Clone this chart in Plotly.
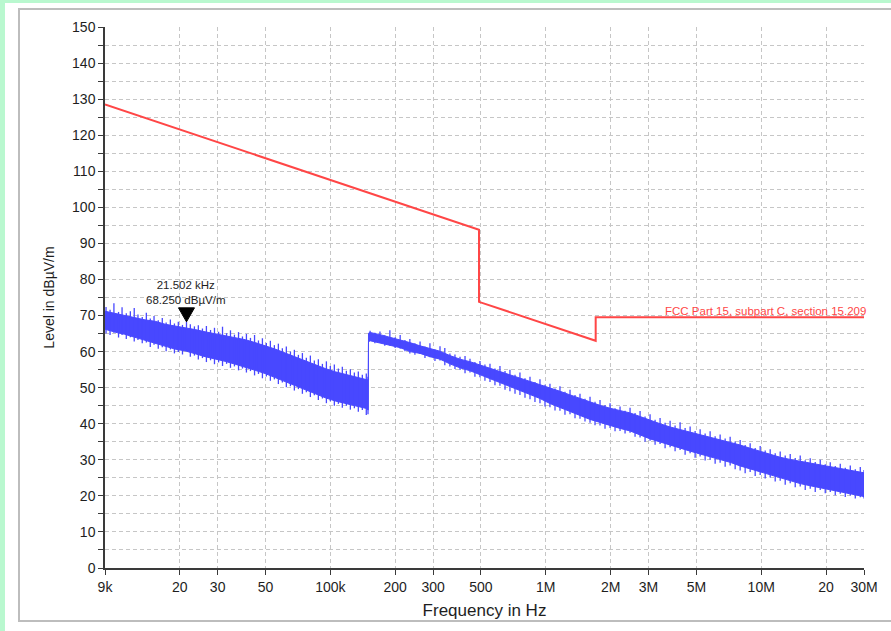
import math
import plotly.graph_objects as go

# ---------------- measured spectrum ----------------
# Dense core of the peak trace (frequencies in kHz, levels in dBuV/m)
core_a_khz = [9.0, 10.0, 11.1, 12.4, 13.8, 15.4, 17.1, 19.0, 21.2, 23.6, 26.2, 29.2, 32.5, 36.2,
              40.3, 44.8, 49.9, 55.5, 61.8, 68.8, 76.5, 85.2, 94.8, 105.5, 117.4, 130.7, 145.4, 150]
core_a_top = [71.2, 70.6, 70.1, 69.4, 68.8, 68.4, 67.6, 67.1, 66.7, 66.1, 65.5, 65.0, 64.5, 63.9,
              63.3, 62.5, 61.7, 60.7, 59.6, 58.5, 57.4, 56.3, 55.3, 54.4, 53.7, 53.0, 52.4, 52.1]
core_a_bot = [66.2, 65.4, 64.8, 64.0, 63.2, 62.4, 61.5, 60.7, 60.2, 59.4, 58.6, 57.9, 57.3, 56.5,
              55.7, 54.8, 53.9, 52.9, 51.7, 50.5, 49.4, 48.3, 47.2, 46.3, 45.6, 44.9, 44.3, 43.8]

core_b_khz = [150.4, 153, 170, 189, 211, 234, 261, 290, 323, 359, 400, 445, 495, 551, 613, 682,
              759, 845, 940, 1046, 1164, 1296, 1442, 1605, 1786, 1988, 2212, 2462, 2740, 3049,
              3393, 3777, 4203, 4678, 5206, 5793, 6447, 7175, 7985, 8887, 9891, 11008, 12251,
              13634, 15174, 16887, 18794, 20916, 23278, 25907, 28832, 30000]
core_b_top = [65.1, 65.3, 64.7, 64.0, 63.3, 62.5, 61.6, 60.9, 60.1, 58.9, 57.9, 57.2, 56.3, 55.5,
              54.6, 53.7, 52.8, 51.7, 50.8, 49.9, 49.0, 48.0, 47.0, 45.9, 45.1, 44.3, 43.6, 43.0,
              42.0, 40.9, 40.0, 39.1, 38.4, 37.7, 37.0, 36.3, 35.6, 35.0, 34.1, 33.2, 32.3, 31.5,
              30.7, 30.1, 29.6, 29.1, 28.6, 28.1, 27.6, 27.1, 26.6, 26.4]
core_b_bot = [62.7, 63.0, 62.5, 61.8, 61.1, 60.0, 59.5, 58.6, 57.9, 56.6, 55.5, 54.7, 53.7, 52.6,
              51.5, 50.4, 49.2, 48.1, 47.0, 45.6, 44.5, 43.3, 42.3, 41.2, 40.3, 39.5, 38.7, 38.0,
              36.9, 35.8, 34.9, 34.0, 33.2, 32.4, 31.6, 30.8, 30.0, 29.3, 28.3, 27.4, 26.6, 25.8,
              24.9, 24.2, 23.4, 22.8, 22.2, 21.6, 21.0, 20.5, 20.0, 19.8]

# Individual sweep bins reaching outside the core: frequency (kHz), min and max level
bins_a_khz = [9.1, 9.5, 9.9, 10.4, 10.8, 11.3, 11.8, 12.3, 12.8, 13.4, 14.0, 14.6, 15.2, 15.9,
              16.6, 17.3, 18.1, 18.9, 19.7, 20.6, 21.502, 22.4, 23.4, 24.4, 25.5, 26.6, 27.8,
              29.0, 30.3, 31.6, 33.0, 34.4, 35.9, 37.5, 39.1, 40.8, 42.6, 44.5, 46.4, 48.4,
              50.5, 52.7, 55.0, 57.4, 59.9, 62.5, 65.3, 68.1, 71.1, 74.2, 77.4, 80.8, 84.3,
              88.0, 91.9, 95.9, 100, 104.4, 109, 113.7, 118.7, 123.9, 129.3, 134.9, 140.8,
              146.9, 149.6]
bins_a_min = [65.0, 64.6, 65.2, 63.9, 64.6, 63.5, 64.0, 62.8, 63.2, 62.3, 62.5, 61.3, 61.9, 60.8,
              61.2, 60.1, 60.6, 59.5, 59.9, 59.2, 60.5, 58.6, 58.9, 57.8, 58.2, 57.1, 57.6,
              56.5, 57.0, 56.0, 56.6, 55.5, 55.9, 54.8, 55.3, 54.2, 54.6, 53.4, 53.8, 52.6,
              53.1, 51.9, 52.3, 51.0, 51.4, 50.1, 50.4, 49.2, 49.6, 48.3, 48.7, 47.4, 47.9,
              46.6, 47.0, 45.7, 46.2, 45.0, 45.5, 44.4, 45.0, 43.9, 44.3, 43.3, 43.8,
              42.4, 42.6]
bins_a_max = [72.4, 71.6, 73.4, 71.0, 72.3, 70.6, 71.2, 72.1, 70.3, 69.6, 70.8, 69.2, 69.9, 68.7,
              69.3, 68.1, 68.9, 67.8, 68.3, 67.4, 68.25, 67.6, 67.0, 67.3, 66.4, 67.1, 66.0,
              66.6, 65.5, 66.9, 65.1, 65.9, 64.7, 65.4, 64.2, 64.9, 63.8, 64.6, 63.1, 63.7,
              62.4, 63.0, 61.8, 62.2, 60.9, 61.4, 60.0, 60.5, 59.1, 59.6, 58.3, 58.9, 57.5,
              57.9, 56.6, 57.3, 56.0, 56.4, 55.3, 55.8, 54.7, 55.1, 54.2, 54.5, 53.6,
              53.9, 53.0]

bins_b_khz = [153, 161, 170, 179, 189, 200, 211, 222, 234, 247, 261, 275, 290, 306, 323, 340,
              359, 379, 400, 422, 445, 469, 495, 522, 551, 581, 613, 647, 682, 720, 759, 801,
              845, 891, 940, 992, 1046, 1104, 1164, 1228, 1296, 1367, 1442, 1521, 1605, 1693,
              1786, 1884, 1988, 2097, 2212, 2334, 2462, 2597, 2740, 2890, 3049, 3217, 3393,
              3580, 3777, 3984, 4203, 4434, 4678, 4935, 5206, 5492, 5793, 6112, 6447, 6802,
              7175, 7570, 7985, 8424, 8887, 9376, 9891, 10435, 11008, 11613, 12251, 12924,
              13634, 14384, 15174, 16008, 16887, 17815, 18794, 19827, 20916, 22066, 23278,
              24557, 25907, 27330, 28832, 30000]
bins_b_min = [63.0, 62.3, 62.5, 61.6, 61.7, 61.0, 60.8, 60.1, 59.5, 59.1, 59.3, 58.2, 58.4, 57.4,
              57.5, 56.2, 55.9, 55.2, 54.9, 54.0, 54.2, 53.0, 52.9, 51.9, 51.6, 50.7, 50.5, 49.4,
              49.0, 48.3, 48.0, 47.2, 46.8, 46.0, 45.7, 44.8, 44.6, 43.7, 43.6, 42.5, 42.6, 41.5,
              41.4, 40.6, 40.3, 39.6, 39.5, 38.6, 38.8, 37.9, 38.0, 37.3, 37.5, 36.4, 36.2, 35.0,
              35.3, 34.2, 34.4, 33.2, 33.5, 32.4, 32.7, 31.4, 31.8, 30.6, 30.9, 29.8, 30.0, 28.9,
              29.2, 28.1, 28.4, 27.4, 27.0, 26.3, 26.6, 25.5, 25.8, 24.8, 25.1, 24.0, 24.2, 23.1,
              23.5, 22.4, 22.6, 21.6, 22.0, 21.1, 21.6, 20.7, 21.1, 20.2, 20.6, 19.7, 20.1, 19.3,
              19.6, 19.3]
bins_b_max = [65.8, 65.2, 65.6, 64.5, 65.9, 64.0, 64.6, 63.2, 63.5, 62.3, 62.8, 61.4, 62.3, 60.6,
              61.5, 61.0, 59.5, 59.2, 58.6, 58.8, 58.0, 57.1, 57.4, 56.4, 56.6, 55.3, 56.0, 54.6,
              55.0, 53.6, 54.2, 52.6, 53.0, 51.6, 52.3, 50.8, 51.1, 49.8, 50.4, 48.9, 49.4, 48.0,
              48.3, 46.9, 47.5, 46.1, 46.6, 45.2, 45.7, 44.3, 44.8, 43.6, 44.4, 43.0, 43.5, 42.0,
              42.6, 41.1, 41.6, 40.3, 40.8, 39.5, 40.4, 38.8, 39.2, 38.0, 38.5, 37.3, 37.9, 36.5,
              37.0, 35.9, 36.4, 35.1, 35.5, 34.1, 34.6, 33.3, 33.8, 32.6, 32.9, 31.8, 32.3, 31.2,
              31.6, 30.5, 31.2, 29.9, 30.4, 29.4, 30.0, 28.8, 29.3, 28.3, 28.9, 27.8, 28.4, 27.4,
              28.0, 27.2]

for grp in ((core_a_khz, core_a_top, core_a_bot), (core_b_khz, core_b_top, core_b_bot),
            (bins_a_khz, bins_a_min, bins_a_max), (bins_b_khz, bins_b_min, bins_b_max)):
    assert len(grp[0]) == len(grp[1]) == len(grp[2])

# ---------------- FCC Part 15.209 limit (extrapolated to 3 m) ----------------
limit_hz = [9e3, 490e3, 490e3, 1.705e6, 1.705e6, 30e6]
limit_db = [128.5, 93.8, 73.8, 63.0, 69.5, 69.5]
limit_name = "FCC Part 15, subpart C, section 15.209"

# ---------------- peak marker ----------------
marker_hz = 21502.0
marker_db = 68.25

# ---------------- axis ticks ----------------
x_tickvals = [9e3, 20e3, 30e3, 50e3, 100e3, 200e3, 300e3, 500e3, 1e6, 2e6, 3e6, 5e6, 10e6, 20e6, 30e6]
x_ticktext = ["9k", "20", "30", "50", "100k", "200", "300", "500", "1M", "2M", "3M", "5M", "10M", "20", "30M"]

BLUE = "#4848ff"
RED = "#ff4646"
GRID = "#c6c6c6"
AXIS = "#3a3a3a"
TXT = "#1e1e1e"
FONT = "Liberation Sans, Arial, sans-serif"

fig = go.Figure()

# dense core of the trace as a filled band
core_hz = [f * 1e3 for f in core_a_khz + core_b_khz]
core_top = core_a_top + core_b_top
core_bot = core_a_bot + core_b_bot
fig.add_trace(go.Scatter(
    x=core_hz + core_hz[::-1],
    y=core_top + core_bot[::-1],
    mode="lines", fill="toself", fillcolor=BLUE,
    line=dict(color=BLUE, width=1),
    hoverinfo="skip", showlegend=False,
))

# single sweep bins drawn as thin vertical strokes
bx, by = [], []
for f, lo, hi in list(zip(bins_a_khz, bins_a_min, bins_a_max)) + list(zip(bins_b_khz, bins_b_min, bins_b_max)):
    bx += [f * 1e3, f * 1e3, None]
    by += [lo, hi, None]
fig.add_trace(go.Scatter(
    x=bx, y=by, mode="lines", line=dict(color=BLUE, width=1.3),
    hoverinfo="skip", showlegend=False,
))

fig.add_trace(go.Scatter(
    x=limit_hz, y=limit_db, mode="lines",
    line=dict(color=RED, width=2),
    hoverinfo="skip", showlegend=False,
))

# plot area in page pixels: 105..864 horizontally, 27..568 vertically
L, T, W, H = 105, 27, 759, 541


def px_x(p):
    return (p - L) / W


def px_y(p):
    return 1 - (p - T) / H


shapes = [
    # white panel and its grey frame
    dict(type="rect", xref="paper", yref="paper", layer="below",
         x0=px_x(5), x1=px_x(900), y0=px_y(640), y1=px_y(3),
         fillcolor="white", line=dict(width=0)),
    dict(type="rect", xref="paper", yref="paper", layer="below",
         x0=px_x(19), x1=px_x(905), y0=px_y(621), y1=px_y(9),
         fillcolor="rgba(0,0,0,0)", line=dict(color="#bdbdbd", width=2)),
    # marker triangle, tip on the marked level
    dict(type="path", xref="x", yref="y", xsizemode="pixel", ysizemode="pixel",
         xanchor=marker_hz, yanchor=marker_db,
         path="M -8 14 L 8 14 L 0 0 Z",
         fillcolor="black", line=dict(color="black", width=1)),
]

annotations = [
    dict(x=math.log10(marker_hz), y=marker_db, xref="x", yref="y",
         text=f"{marker_hz / 1e3:.3f} kHz<br>{marker_db:.3f} dBµV/m",
         showarrow=False, xanchor="center", yanchor="bottom", yshift=14,
         font=dict(family=FONT, size=11.5, color=TXT)),
    dict(x=math.log10(limit_hz[-1]), y=limit_db[-1], xref="x", yref="y",
         text=limit_name, showarrow=False, xanchor="right", yanchor="bottom",
         xshift=4, yshift=-2,
         font=dict(family=FONT, size=11.5, color=RED)),
]

fig.update_layout(
    width=891, height=631,
    margin=dict(l=L, r=891 - L - W, t=T, b=631 - T - H),
    paper_bgcolor="#b9f8cf",
    plot_bgcolor="white",
    shapes=shapes,
    annotations=annotations,
    font=dict(family=FONT, color=TXT),
    xaxis=dict(
        type="log",
        range=[math.log10(9e3), math.log10(30e6)],
        tickvals=x_tickvals, ticktext=x_ticktext,
        showgrid=True, gridcolor=GRID, gridwidth=1, griddash="4px,3px",
        showline=True, linecolor=AXIS, linewidth=1.5,
        ticks="outside", ticklen=5, tickcolor=AXIS, tickwidth=1.2,
        tickfont=dict(family=FONT, size=14, color=TXT),
        title=dict(text="Frequency in Hz", font=dict(family=FONT, size=17, color=TXT), standoff=11),
        zeroline=False,
    ),
    yaxis=dict(
        range=[0, 150], tick0=0, dtick=10,
        showgrid=True, gridcolor=GRID, gridwidth=1, griddash="4px,3px",
        showline=True, linecolor=AXIS, linewidth=1.5,
        ticks="outside", ticklen=5, tickcolor=AXIS, tickwidth=1.2,
        tickfont=dict(family=FONT, size=14, color=TXT),
        minor=dict(dtick=5, tick0=0, ticks="outside", ticklen=5, tickcolor=AXIS,
                   showgrid=True, gridcolor=GRID, gridwidth=1, griddash="4px,3px"),
        title=dict(text="Level in dBµV/m", font=dict(family=FONT, size=14, color=TXT), standoff=14),
        zeroline=False,
    ),
)

fig.write_html("out.html")
